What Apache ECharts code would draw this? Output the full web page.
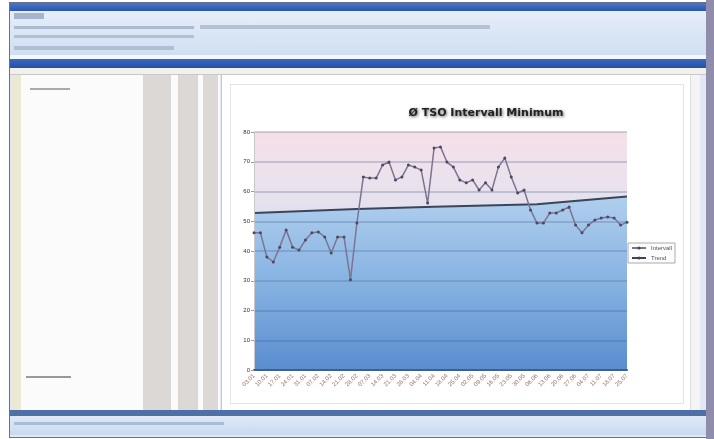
<!DOCTYPE html>
<html><head><meta charset="utf-8">
<script src="https://cdn.jsdelivr.net/npm/echarts@6/dist/echarts.min.js"></script>
<style>
html,body{margin:0;padding:0;width:714px;height:439px;overflow:hidden;background:#fff;font-family:"DejaVu Sans",sans-serif;}
.b{position:absolute;}
#chart{position:absolute;left:0;top:0;width:714px;height:439px;z-index:5;}
</style></head><body>
<!-- window chrome -->
<div class="b" style="left:9px;top:2px;width:697px;height:434px;background:#dfe8f4;border:1px solid #6d6f86;"></div>
<div class="b" style="left:10px;top:3px;width:696px;height:8px;background:linear-gradient(#4b76c8,#2b56ad);"></div>
<div class="b" style="left:10px;top:11px;width:696px;height:44px;background:linear-gradient(#e6eef9,#cfdff2);"></div>
<div class="b" style="left:14px;top:13px;width:30px;height:6px;background:#7d8fb0;opacity:.6"></div>
<div class="b" style="left:14px;top:26px;width:180px;height:3px;background:#8c9bb8;opacity:.6"></div>
<div class="b" style="left:200px;top:25px;width:290px;height:4px;background:#9aa6bd;opacity:.6"></div>
<div class="b" style="left:14px;top:35px;width:180px;height:3px;background:#8c9bb8;opacity:.5"></div>
<div class="b" style="left:14px;top:46px;width:160px;height:4px;background:#8c9bb8;opacity:.5"></div>
<div class="b" style="left:10px;top:55px;width:696px;height:4px;background:#f3f6fb;"></div>
<div class="b" style="left:10px;top:59px;width:696px;height:9px;background:linear-gradient(#3b68bf,#2450a8);"></div>
<div class="b" style="left:10px;top:68px;width:696px;height:6px;background:#f2f0ea;border-bottom:1px solid #c8c8c8;"></div>
<!-- left panel -->
<div class="b" style="left:11px;top:75px;width:209px;height:335px;background:#fbfbfb;"></div>
<div class="b" style="left:11px;top:75px;width:10px;height:335px;background:#ebe9d3;"></div>
<div class="b" style="left:143px;top:75px;width:28px;height:335px;background:#dcd8d5;"></div>
<div class="b" style="left:178px;top:75px;width:20px;height:335px;background:#dcd8d5;"></div>
<div class="b" style="left:203px;top:75px;width:15px;height:335px;background:#dcd8d5;"></div>
<div class="b" style="left:30px;top:88px;width:40px;height:2px;background:#aaa;"></div>
<div class="b" style="left:26px;top:376px;width:45px;height:2px;background:#999;"></div>
<!-- chart panel -->
<div class="b" style="left:221px;top:75px;width:478px;height:335px;background:#fff;border-left:1px solid #c9c9c9;"></div>
<div class="b" style="left:230px;top:84px;width:452px;height:318px;background:#fff;border:1px solid #e4e4e4;"></div>
<div class="b" style="left:690px;top:75px;width:9px;height:335px;background:#f4f4f4;border-left:1px solid #ddd;"></div>
<!-- bottom bars -->
<div class="b" style="left:10px;top:410px;width:696px;height:6px;background:#4f6fa8;"></div>
<div class="b" style="left:10px;top:416px;width:696px;height:19px;background:linear-gradient(#dfe9f6,#c9daef);"></div>
<div class="b" style="left:14px;top:422px;width:210px;height:3px;background:#8aa0c4;opacity:.6"></div>
<div class="b" style="left:706px;top:0px;width:8px;height:439px;background:#8f8dab;"></div>
<div id="chart"></div>
<script>
var categories = ["03.01","05.01","10.01","12.01","17.01","19.01","24.01","26.01","31.01","02.02",
"07.02","09.02","14.02","16.02","21.02","23.02","28.02","02.03","07.03","09.03",
"14.03","16.03","21.03","23.03","28.03","30.03","04.04","06.04","11.04","13.04",
"18.04","20.04","25.04","27.04","02.05","04.05","09.05","11.05","16.05","18.05",
"23.05","25.05","30.05","01.06","06.06","08.06","13.06","15.06","20.06","22.06",
"27.06","29.06","04.07","06.07","11.07","13.07","18.07","20.07","25.07"];
var intervalValues = [46.1,46.1,38.0,36.3,41.3,47.1,41.3,40.3,43.7,46.1,
46.4,44.7,39.3,44.7,44.7,30.3,49.4,64.9,64.5,64.5,
68.9,69.9,63.9,64.9,68.9,68.2,67.2,56.1,74.6,75.0,
69.9,68.2,63.9,62.9,63.9,60.5,62.9,60.5,68.2,71.3,
64.9,59.5,60.5,53.8,49.4,49.4,52.8,52.8,53.8,54.8,
48.7,46.1,48.7,50.4,51.1,51.4,51.1,48.7,49.7];
// trend line read at a few positions (other points left empty)
var trendValues = [];
var trendRead = {0:52.8, 16:54.1, 28:54.9, 44:55.7, 58:58.3};
for (var i = 0; i < categories.length; i++) trendValues.push(trendRead[i] !== undefined ? trendRead[i] : null);
var yTicks = {min:0, max:80, interval:10};
var titleText = "Ø TSO Intervall Minimum";
var seriesNames = ["Intervall", "Trend"];

var chart = echarts.init(document.getElementById('chart'), null, {renderer:'canvas'});
chart.setOption({
  backgroundColor: 'transparent',
  animation: false,
  title: {
    text: titleText, left: 481, top: 103, textAlign: 'center',
    textStyle: {fontSize: 11, fontWeight: 'bold', color: '#222', fontFamily: 'DejaVu Sans',
      textShadowColor: 'rgba(0,0,0,0.6)', textShadowBlur: 3, textShadowOffsetX: 1, textShadowOffsetY: 1}
  },
  legend: {
    orient: 'vertical', left: 628, top: 243, itemWidth: 14, itemHeight: 4, itemGap: 4,
    textStyle: {fontSize: 6, color: '#555'},
    backgroundColor: '#fcfcfc', borderColor: '#aaa', borderWidth: 1, padding: [2,3],
    data: seriesNames
  },
  grid: {
    left: 254, right: 87, top: 132, bottom: 69, containLabel: false, show: true, borderWidth: 0,
    backgroundColor: new echarts.graphic.LinearGradient(0,0,0,1,[
      {offset:0, color:'#f5dfe7'},{offset:0.18, color:'#ece2ec'},{offset:0.4, color:'#dfe0ee'},{offset:1, color:'#d6def0'}])
  },
  xAxis: {
    type: 'category', data: categories, boundaryGap: false, z: 4,
    axisLine: {show: true, lineStyle: {color: '#3d5f95', width: 2}},
    axisTick: {show: false},
    axisLabel: {rotate: 45, interval: 1, fontSize: 6, color: '#9b6f66', margin: 5},
    splitLine: {show: false}
  },
  yAxis: {
    type: 'value', min: yTicks.min, max: yTicks.max, interval: yTicks.interval, z: 4,
    axisLine: {show: true, lineStyle: {color: '#c8c8c8'}},
    axisTick: {show: true, length: 3, lineStyle: {color: '#999'}},
    axisLabel: {fontSize: 6, color: '#333', margin: 4},
    splitLine: {show: true, lineStyle: {color: 'rgba(60,90,140,0.25)', width: 2}}
  },
  series: [
    {
      name: seriesNames[1], type: 'line', data: trendValues, connectNulls: true,
      symbol: 'none', z: 2,
      lineStyle: {color: '#39455a', width: 2},
      itemStyle: {color: '#39455a'},
      areaStyle: {origin: 'start', opacity: 1, color: new echarts.graphic.LinearGradient(0,0,0,1,[
        {offset:0, color:'#b0cfee'},{offset:0.5, color:'#86b2e2'},{offset:1, color:'#5a8dcf'}])}
    },
    {
      name: seriesNames[0], type: 'line', data: intervalValues, z: 6,
      symbol: 'circle', symbolSize: 3, showAllSymbol: true,
      lineStyle: {color: '#7b7592', width: 1.5},
      itemStyle: {color: '#4d4860'}
    }
  ]
});
</script>
</body></html>
